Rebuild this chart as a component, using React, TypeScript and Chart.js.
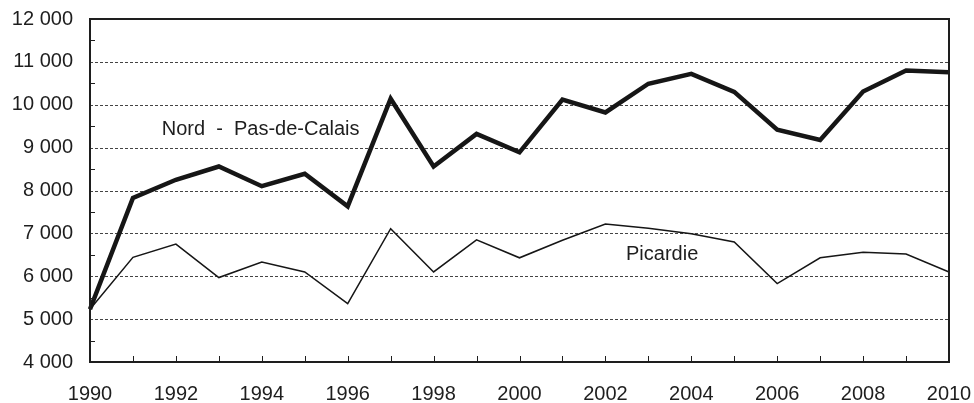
import React, { useEffect, useRef } from "react";
import { Chart, registerables } from "chart.js";

Chart.register(...registerables);

const years = [1990, 1991, 1992, 1993, 1994, 1995, 1996, 1997, 1998, 1999, 2000, 2001, 2002, 2003, 2004, 2005, 2006, 2007, 2008, 2009, 2010];
const nordPasDeCalais = [5230, 7825, 8250, 8560, 8100, 8390, 7630, 10140, 8560, 9320, 8890, 10120, 9820, 10490, 10720, 10300, 9420, 9180, 10310, 10800, 10760];
const picardie = [5230, 6440, 6750, 5970, 6330, 6100, 5360, 7110, 6100, 6850, 6430, 6840, 7220, 7120, 6990, 6800, 5830, 6430, 6560, 6520, 6100];
const xTickLabels = [1990, 1992, 1994, 1996, 1998, 2000, 2002, 2004, 2006, 2008, 2010];
const yMin = 4000;
const yMax = 12000;

const seriesLabels = [
  { text: "Nord  -  Pas-de-Calais", x: 1991.67, y: 9300 },
  { text: "Picardie", x: 2002.48, y: 6385 },
];

const FONT = "'Liberation Sans', Arial, sans-serif";
const INK = "#1e1e1e";

const fmt = (v: number) => {
  const s = String(Math.round(v));
  return s.replace(/\B(?=(\d{3})+(?!\d))/g, " ");
};

const framePlugin = {
  id: "frame",
  beforeDatasetsDraw(chart: any) {
    const { ctx, chartArea, scales } = chart;
    const y = scales.y;
    ctx.save();
    ctx.strokeStyle = "#444";
    ctx.lineWidth = 1;
    ctx.setLineDash([3, 2]);
    for (let v = yMin + 1000; v < yMax; v += 1000) {
      const py = Math.round(y.getPixelForValue(v)) + 0.5;
      ctx.beginPath();
      ctx.moveTo(chartArea.left, py);
      ctx.lineTo(chartArea.right, py);
      ctx.stroke();
    }
    ctx.restore();
  },
  afterDatasetsDraw(chart: any) {
    const { ctx, chartArea, scales } = chart;
    const x = scales.x;
    const y = scales.y;
    ctx.save();
    ctx.strokeStyle = INK;
    ctx.lineWidth = 2;
    ctx.setLineDash([]);
    ctx.strokeRect(chartArea.left, chartArea.top, chartArea.right - chartArea.left, chartArea.bottom - chartArea.top);
    ctx.lineWidth = 1;
    for (let v = yMin + 500; v < yMax; v += 1000) {
      const py = Math.round(y.getPixelForValue(v)) + 0.5;
      ctx.beginPath();
      ctx.moveTo(chartArea.left, py);
      ctx.lineTo(chartArea.left + 5, py);
      ctx.stroke();
    }
    for (const yr of years) {
      const px = Math.round(x.getPixelForValue(yr)) + 0.5;
      ctx.beginPath();
      ctx.moveTo(px, chartArea.bottom);
      ctx.lineTo(px, chartArea.bottom - 6);
      ctx.stroke();
    }
    ctx.fillStyle = INK;
    ctx.font = `20px ${FONT}`;
    ctx.textAlign = "left";
    ctx.textBaseline = "alphabetic";
    for (const l of seriesLabels) {
      ctx.fillText(l.text, x.getPixelForValue(l.x), y.getPixelForValue(l.y));
    }
    ctx.restore();
  },
};

export default function App() {
  const ref = useRef<HTMLCanvasElement>(null);
  useEffect(() => {
    if (!ref.current) return;
    const chart = new Chart(ref.current, {
      type: "line",
      data: {
        datasets: [
          {
            label: "Nord - Pas-de-Calais",
            data: years.map((yr, i) => ({ x: yr, y: nordPasDeCalais[i] })),
            borderColor: "#161616",
            borderWidth: 4.5,
            pointRadius: 0,
            tension: 0,
            borderJoinStyle: "miter",
          },
          {
            label: "Picardie",
            data: years.map((yr, i) => ({ x: yr, y: picardie[i] })),
            borderColor: "#161616",
            borderWidth: 1.5,
            pointRadius: 0,
            tension: 0,
          },
        ],
      },
      options: {
        responsive: false,
        animation: false,
        clip: false as any,
        layout: { padding: { top: 19, right: 25, left: 0, bottom: 0 } },
        plugins: { legend: { display: false }, tooltip: { enabled: false } },
        scales: {
          x: {
            type: "linear",
            min: 1990,
            max: 2010,
            afterBuildTicks: (s: any) => {
              s.ticks = xTickLabels.map((v) => ({ value: v }));
            },
            afterFit: (s: any) => {
              s.height = 41;
              s.paddingLeft = 0;
              s.paddingRight = 0;
            },
            grid: { display: false, drawTicks: false },
            border: { display: false },
            ticks: {
              color: INK,
              font: { family: FONT, size: 20 },
              padding: 20,
              maxRotation: 0,
              autoSkip: false,
              callback: (v: any) => String(v),
            },
          },
          y: {
            min: yMin,
            max: yMax,
            afterFit: (s: any) => {
              s.width = 90;
              s.paddingTop = 0;
              s.paddingBottom = 0;
            },
            grid: { display: false, drawTicks: false },
            border: { display: false },
            ticks: {
              stepSize: 1000,
              color: INK,
              font: { family: FONT, size: 20 },
              padding: 17,
              callback: (v: any) => fmt(Number(v)),
            },
          },
        },
      },
      plugins: [framePlugin],
    });
    return () => chart.destroy();
  }, []);
  return (
    <div style={{ position: "absolute", left: 0, top: 0, width: 974, height: 403, background: "#fff" }}>
      <canvas ref={ref} width={974} height={403} style={{ display: "block" }} />
    </div>
  );
}
